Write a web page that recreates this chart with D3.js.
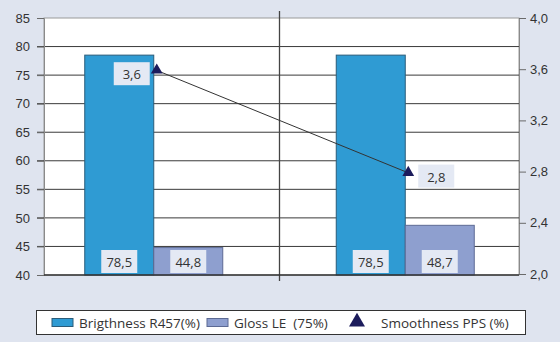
<!DOCTYPE html>
<html>
<head>
<meta charset="utf-8">
<script src="https://cdn.jsdelivr.net/npm/d3@7"></script>
<style>
  html, body { margin: 0; padding: 0; background: #dfe4ef; }
  svg { display: block; font-family: "Open Sans", "Noto Sans", sans-serif; }
</style>
</head>
<body>
<svg id="chart" width="560" height="342"></svg>
<script>
// Paper properties per sample
const categories = ["A", "B"];
const brightness = [78.5, 78.5];   // Brigthness R457 (%)
const gloss = [44.8, 48.7];        // Gloss LE (75%)
const smoothness = [3.6, 2.8];     // Smoothness PPS (%)
const leftTicks = [40, 45, 50, 55, 60, 65, 70, 75, 80, 85];
const rightTicks = [2.0, 2.4, 2.8, 3.2, 3.6, 4.0];
const seriesNames = ["Brigthness R457(%)", "Gloss LE  (75%)", "Smoothness PPS (%)"];

const svg = d3.select("#chart");
const plot = { left: 44, right: 519, top: 18, bottom: 275 };

const fmt1 = d => d3.format(".1f")(d).replace(".", ",");

const x = d3.scaleBand().domain(categories).range([28, 531]);
const xs = d3.scaleBand().domain(["b", "g"]).range([0, 138]);
const groupOffset = (x.bandwidth() - 138) / 2;
const yL = d3.scaleLinear().domain([40, 85]).range([plot.bottom, plot.top]);
const yR = d3.scaleLinear().domain([2.0, 4.0]).range([plot.bottom - 1, plot.top]);

// plot background
svg.append("rect")
  .attr("x", plot.left).attr("y", plot.top)
  .attr("width", plot.right - plot.left).attr("height", plot.bottom - plot.top)
  .attr("fill", "#ffffff").attr("stroke", "#9a9a9a").attr("stroke-width", 1);

// horizontal gridlines with outside ticks
svg.append("g").selectAll("line")
  .data(leftTicks.filter(t => t > 40 && t < 85))
  .join("line")
  .attr("x1", plot.left - 7).attr("x2", plot.right)
  .attr("y1", d => yL(d)).attr("y2", d => yL(d))
  .attr("stroke", "#3a3a3a").attr("stroke-width", 1);

// left axis
const axL = d3.axisLeft(yL).tickValues(leftTicks).tickSize(7).tickPadding(7).tickFormat(d => d);
const gL = svg.append("g").attr("transform", `translate(${plot.left},0)`).call(axL);
gL.select(".domain").attr("stroke", "#8a8a8a");
gL.selectAll(".tick line").attr("stroke", "#6a6a6a");
gL.selectAll("text").attr("font-size", 13).attr("fill", "#333");

// right axis
const axR = d3.axisRight(yR).tickValues(rightTicks).tickSize(7).tickPadding(4).tickFormat(fmt1);
const gR = svg.append("g").attr("transform", `translate(${plot.right},0)`).call(axR);
gR.select(".domain").attr("stroke", "#8a8a8a");
gR.selectAll(".tick line").attr("stroke", "#6a6a6a");
gR.selectAll("text").attr("font-size", 13).attr("fill", "#333");

// category divider
svg.append("line")
  .attr("x1", x("B")).attr("x2", x("B"))
  .attr("y1", 11).attr("y2", 281)
  .attr("stroke", "#444").attr("stroke-width", 1.3);

// bars
const barColor = { b: "#2f9bd3", g: "#8e9fcf" };
const barStroke = { b: "#2a5c7a", g: "#5c6a94" };
categories.forEach((c, i) => {
  [["b", brightness[i]], ["g", gloss[i]]].forEach(([k, v]) => {
    const bx = x(c) + groupOffset + xs(k);
    svg.append("rect")
      .attr("x", bx).attr("y", yL(v))
      .attr("width", xs.bandwidth()).attr("height", yL(40) - yL(v))
      .attr("fill", barColor[k]).attr("stroke", barStroke[k]).attr("stroke-width", 1);
    // value label at the foot of the bar
    const cx = bx + xs.bandwidth() / 2;
    svg.append("rect")
      .attr("x", cx - 18).attr("y", plot.bottom - 25)
      .attr("width", 36).attr("height", 23)
      .attr("fill", "#e4e9f4");
    svg.append("text")
      .attr("x", cx).attr("y", plot.bottom - 8.5)
      .attr("text-anchor", "middle").attr("font-size", 13).attr("fill", "#333")
      .text(fmt1(v));
  });
});

// bottom axis line
svg.append("line")
  .attr("x1", plot.left).attr("x2", plot.right)
  .attr("y1", plot.bottom).attr("y2", plot.bottom)
  .attr("stroke", "#333").attr("stroke-width", 1.5);

// smoothness line and markers
const px = c => x(c) + x.bandwidth() / 2;
const line = d3.line().x((d, i) => px(categories[i])).y(d => yR(d));
svg.append("path").datum(smoothness)
  .attr("d", line).attr("fill", "none").attr("stroke", "#333").attr("stroke-width", 1);

const tri = d3.symbol().type(d3.symbolTriangle).size(60);
smoothness.forEach((v, i) => {
  const cx = px(categories[i]) + 3;
  svg.append("path").attr("d", tri)
    .attr("transform", `translate(${cx},${yR(v) + 1})`)
    .attr("fill", "#1c1c5c");
  const lx = i === 0 ? cx - 25 : cx + 28;
  svg.append("rect")
    .attr("x", lx - 18).attr("y", yR(v) - 7)
    .attr("width", 36).attr("height", 23)
    .attr("fill", "#e4e9f4");
  svg.append("text")
    .attr("x", lx).attr("y", yR(v) + 10)
    .attr("text-anchor", "middle").attr("font-size", 13).attr("fill", "#333")
    .text(fmt1(v));
});

// legend
const lg = svg.append("g");
lg.append("rect").attr("x", 36.5).attr("y", 310.5).attr("width", 489).attr("height", 24)
  .attr("fill", "#fff").attr("stroke", "#333").attr("stroke-width", 1);
const legendItems = [
  { x: 52, kind: "b", tx: 79 },
  { x: 207, kind: "g", tx: 234 },
  { x: 357, kind: "t", tx: 381 }
];
legendItems.forEach((it, i) => {
  if (it.kind === "t") {
    lg.append("path").attr("d", d3.symbol().type(d3.symbolTriangle).size(110))
      .attr("transform", `translate(${it.x},${322})`).attr("fill", "#1c1c5c");
  } else {
    lg.append("rect").attr("x", it.x).attr("y", 318.5).attr("width", 21).attr("height", 8)
      .attr("fill", barColor[it.kind]).attr("stroke", barStroke[it.kind]);
  }
  lg.append("text").attr("x", it.tx).attr("y", 327.5)
    .attr("font-size", 13.5).attr("fill", "#333")
    .style("white-space", "pre")
    .text(seriesNames[i]);
});
</script>
</body>
</html>
